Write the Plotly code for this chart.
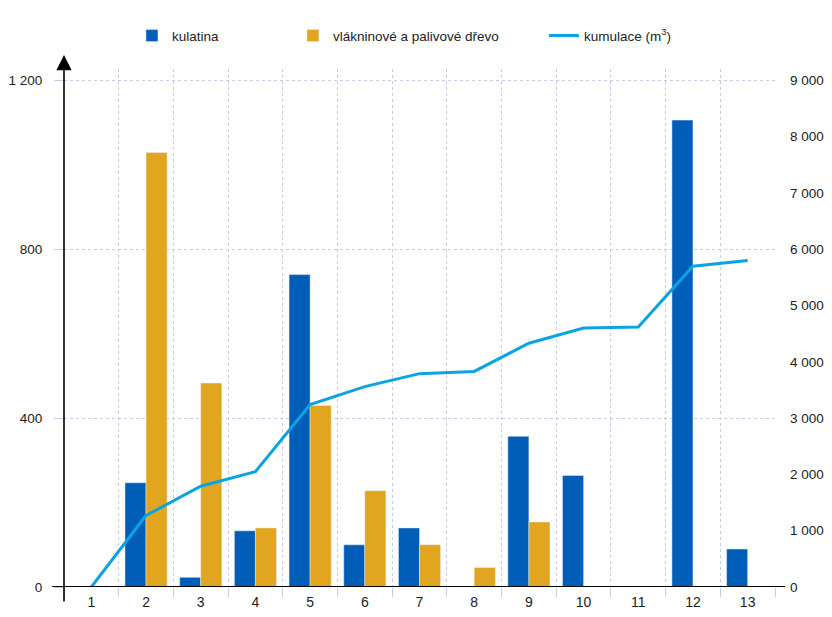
import plotly.graph_objects as go

categories = [str(i) for i in range(1, 14)]
kulatina = [0, 247, 23, 133, 740, 100, 140, 0, 357, 264, 0, 1106, 90]
vlaknina = [0, 1029, 483, 140, 430, 228, 100, 46, 154, 0, 0, 0, 0]
kumulace = [0, 1270, 1790, 2050, 3240, 3560, 3790, 3830, 4330, 4600, 4620, 5700, 5800]
left_ticks = [0, 400, 800, 1200]
right_ticks = list(range(0, 9001, 1000))

FONT = "Liberation Sans Narrow, Arial Narrow, Liberation Sans, Arial, sans-serif"
BLUE = "#005EB8"
ORANGE = "#E2A51F"
LINE = "#0CA3E2"
GRID = "#C3CDE6"
TXT = "#222"

fig = go.Figure()
fig.add_trace(go.Bar(x=categories, y=kulatina, name="kulatina", marker_color=BLUE,
                     legend="legend", showlegend=True))
fig.add_trace(go.Bar(x=categories, y=vlaknina, name="vlákninové a palivové dřevo",
                     marker_color=ORANGE, legend="legend2", showlegend=True))
fig.add_trace(go.Scatter(x=categories, y=kumulace, name="kumulace (m<sup>3</sup>)",
                         mode="lines", line=dict(color=LINE, width=3), yaxis="y2",
                         legend="legend3", showlegend=True))

leg_common = dict(orientation="h", yanchor="middle", y=1.064, xanchor="left",
                  font=dict(family=FONT, size=13.5, color=TXT),
                  bgcolor="rgba(0,0,0,0)")

fig.update_layout(
    width=816, height=601,
    margin=dict(l=56, r=49, t=54, b=22),
    paper_bgcolor="white", plot_bgcolor="white",
    separators=", ",
    showlegend=True,
    barmode="group", bargap=0.23, bargroupgap=0,
    font=dict(family=FONT, size=14, color=TXT),
    legend=dict(x=0.0956, **leg_common),
    legend2=dict(x=0.322, **leg_common),
    legend3=dict(x=0.675, **leg_common),
    xaxis=dict(type="category", tickson="boundaries", showgrid=True,
               gridcolor=GRID, griddash="dot", gridwidth=1,
               ticks="outside", ticklen=9, tickcolor=GRID, tickwidth=1,
               showline=False, zeroline=False, automargin=False,
               ticklabelstandoff=5,
               tickfont=dict(family=FONT, size=14, color=TXT)),
    yaxis=dict(range=[0, 1227], tickvals=left_ticks, tickformat=",d",
               showgrid=True, gridcolor=GRID, griddash="dot", gridwidth=1,
               ticks="outside", ticklen=9, tickcolor=GRID, automargin=False,
               zeroline=False, showline=False, ticklabelstandoff=9,
               tickfont=dict(family=FONT, size=13.5, color=TXT)),
    yaxis2=dict(range=[0, 1227 * 7.5], tickvals=right_ticks, tickformat=",d",
                overlaying="y", side="right", showgrid=False, zeroline=False,
                showline=False, ticks="", ticklabelstandoff=14, automargin=False,
                tickfont=dict(family=FONT, size=13.5, color=TXT)),
)

# x axis baseline (extends slightly beyond plot area)
fig.add_shape(type="line", xref="paper", yref="y", x0=-0.017, x1=1.014, y0=0, y1=0,
              line=dict(color="black", width=2), layer="above")
# y axis with arrow
fig.add_annotation(xref="paper", yref="paper", x=0, y=1.027, ax=0, ay=548,
                   axref="pixel", ayref="pixel", showarrow=True, arrowhead=2,
                   arrowsize=1.9, arrowwidth=1.6, arrowcolor="black", text="")

fig.write_html("out.html")
